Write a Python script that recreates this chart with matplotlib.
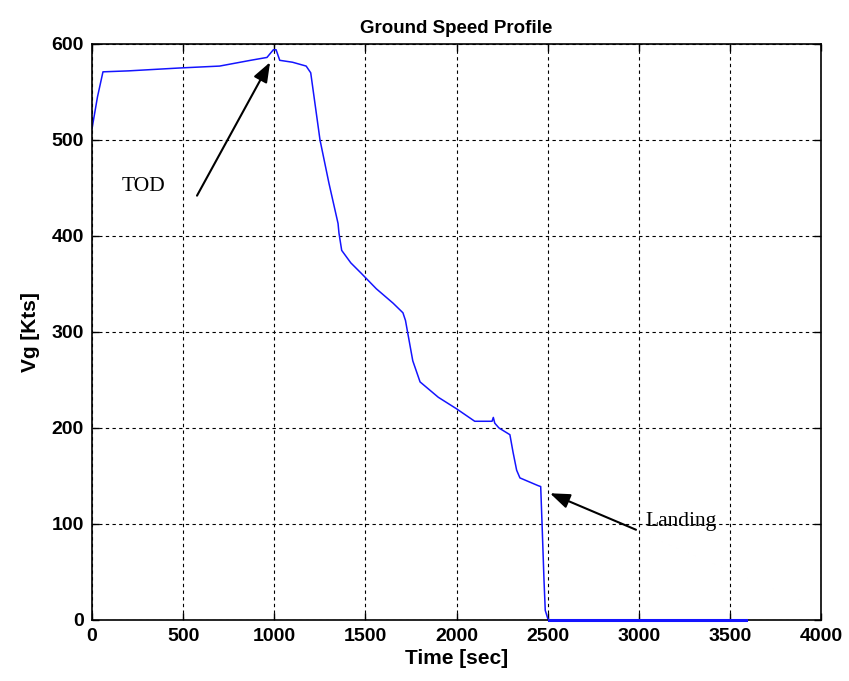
import matplotlib.pyplot as plt

# ground speed profile
time_sec = [0, 30, 60, 200, 480, 700, 870, 960, 995, 1010, 1030, 1100, 1175,
            1200, 1251, 1300, 1350, 1355, 1370, 1420, 1478, 1560, 1652, 1706,
            1720, 1760, 1800, 1900, 2000, 2100, 2195, 2202, 2210, 2233, 2293,
            2310, 2330, 2348, 2447, 2462, 2470, 2480, 2487, 2500, 2505, 3590]
vg_kts = [512, 545, 571, 572, 575, 577, 583, 586, 594, 594, 583, 581, 577,
          570, 500, 455, 413, 403, 385, 372, 361, 345, 330, 320,
          312, 270, 248, 232, 220, 207, 207, 211, 205, 200, 193,
          175, 156, 148, 140, 139, 97, 42, 10, 2, 0, 0]

x_ticks = [0, 500, 1000, 1500, 2000, 2500, 3000, 3500, 4000]
x_labels = ['0', '500', '1000', '1500', '2000', '2500', '3000', '3500', '4000']
y_ticks = [0, 100, 200, 300, 400, 500, 600]

plt.rcParams['font.family'] = ['Liberation Sans', 'DejaVu Sans']

fig = plt.figure(figsize=(8.49, 6.81), dpi=100)
ax = fig.add_axes([0.1084, 0.0896, 0.8586, 0.8458])

ax.plot(time_sec, vg_kts, color='#1414ff', lw=1.1)
# the zero part sits on the bottom axis line, drawn on top of it
ax.plot(time_sec[-2:], vg_kts[-2:], color='#1414ff', lw=2.2,
        clip_on=False, zorder=5)

ax.set_xlim(0, 4000)
ax.set_ylim(0, 600)
ax.set_xticks(x_ticks)
ax.set_xticklabels(x_labels)
ax.set_yticks(y_ticks)
ax.grid(True, color='black', linestyle=(0, (3, 3)), lw=0.8)
ax.tick_params(direction='in', top=True, right=True, length=5, width=1,
               labelsize=14, pad=6)
for lab in ax.get_xticklabels() + ax.get_yticklabels():
    lab.set_fontweight('bold')
for sp in ax.spines.values():
    sp.set_linewidth(1.2)

ax.set_title('Ground Speed Profile', fontsize=13.5, fontweight='bold', pad=8)
ax.set_xlabel('Time [sec]', fontsize=15, fontweight='bold', labelpad=3)
ax.set_ylabel('Vg [Kts]', fontsize=15, fontweight='bold', labelpad=8)

arrow = dict(arrowstyle='-|>,head_length=1.2,head_width=0.45', color='black',
             lw=1.5, shrinkA=0, shrinkB=0)
ax.annotate('', xy=(977, 581), xytext=(576, 442), arrowprops=arrow)
ax.text(285, 452, 'TOD', family='Liberation Serif', fontsize=15.5,
        ha='center', va='center')
ax.annotate('', xy=(2513, 132), xytext=(2985, 94), arrowprops=arrow)
ax.text(3232, 103, 'Landing', family='Liberation Serif', fontsize=15.5,
        ha='center', va='center')

plt.savefig('out.png', dpi=100)
